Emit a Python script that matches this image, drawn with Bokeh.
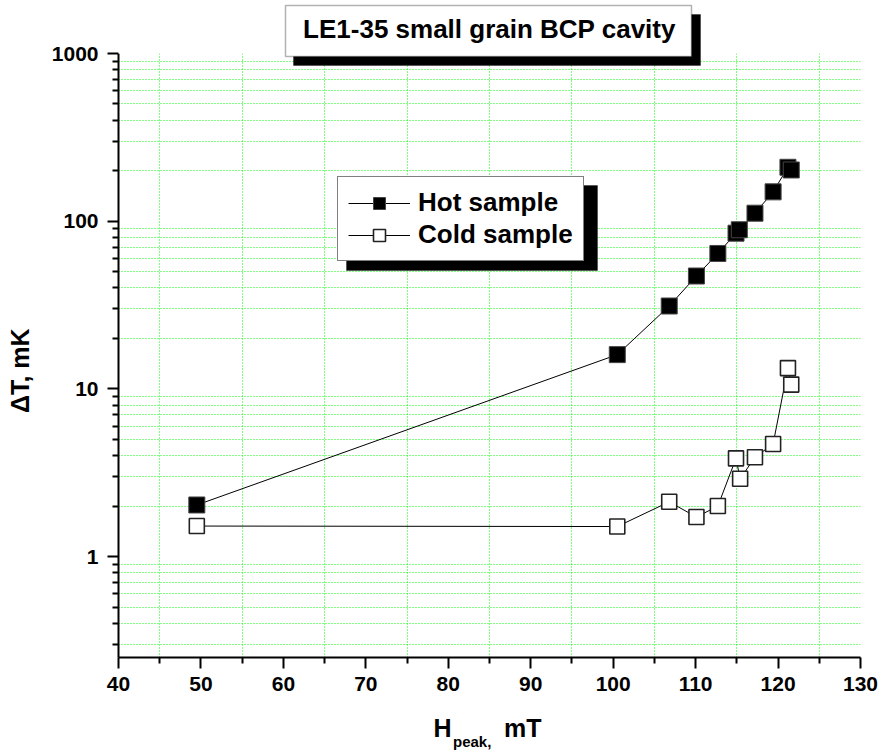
import math
from bokeh.plotting import figure
from bokeh.layouts import column, row
from bokeh.models import (Range1d, FixedTicker, PrintfTickFormatter, Label, BoxAnnotation,
                          Legend, LegendItem)
from bokeh.core.properties import value
from bokeh.embed import file_html
from bokeh.resources import INLINE

# ---------------- data ----------------
hot_x = [49.5, 100.5, 106.8, 110.1, 112.7, 114.9, 115.3, 117.2, 119.4, 121.2, 121.6]
hot_y = [2.03, 16.0, 31.2, 47.1, 64.2, 84.8, 88.9, 111.6, 149.6, 209.6, 202.0]
cold_x = [49.5, 100.5, 106.8, 110.1, 112.7, 114.9, 115.4, 117.2, 119.4, 121.2, 121.6]
cold_y = [1.52, 1.51, 2.12, 1.72, 2.00, 3.85, 2.91, 3.91, 4.69, 13.3, 10.6]

x_major = [40, 50, 60, 70, 80, 90, 100, 110, 120, 130]
x_minor = [45, 55, 65, 75, 85, 95, 105, 115, 125]
y_major = [1, 10, 100, 1000]
y_minor = [0.3, 0.4, 0.5, 0.6, 0.7, 0.8, 0.9,
           2, 3, 4, 5, 6, 7, 8, 9,
           20, 30, 40, 50, 60, 70, 80, 90,
           200, 300, 400, 500, 600, 700, 800, 900]
y_low, y_high = 0.25, 1000

title_text = "LE1-35 small grain BCP cavity"
series_names = ["Hot sample", "Cold sample"]
y_label = "\u0394T, mK"
x_label_main, x_label_sub, x_label_unit = "H", "peak,", "mT"

FONT = "Liberation Sans"
GRID = "#00ff00"

# ---------------- layout (page pixels) ----------------
PAGE_W, PAGE_H = 880, 753
YLAB_W = 45            # strip holding the y-axis title
MAIN_H = 700           # main figure height
XLAB_H = PAGE_H - MAIN_H
FRAME_L, FRAME_R = 118, 860
FRAME_B = 657
Y_TOP_PX = 53          # page y of the 1000 line

px_per_dec = (FRAME_B - Y_TOP_PX) / math.log10(y_high / y_low)
y_range_top = y_high * 10 ** (Y_TOP_PX / px_per_dec)

main_w = PAGE_W - YLAB_W
p = figure(width=main_w, height=MAIN_H, output_backend="svg", toolbar_location=None,
           x_range=Range1d(40, 130), y_range=Range1d(y_low, y_range_top), y_axis_type="log",
           min_border_left=FRAME_L - YLAB_W, min_border_right=PAGE_W - FRAME_R,
           min_border_top=0, min_border_bottom=MAIN_H - FRAME_B)
p.outline_line_color = None
p.background_fill_color = "white"
p.border_fill_color = "white"

for ax in (p.xaxis[0], p.yaxis[0]):
    ax.axis_line_width = 2
    ax.axis_line_color = "black"
    ax.major_tick_line_width = 2
    ax.minor_tick_line_width = 2
    ax.major_tick_in = 0
    ax.major_tick_out = 11
    ax.minor_tick_in = 0
    ax.minor_tick_out = 6
    ax.major_label_text_font = FONT
    ax.major_label_text_font_style = "bold"
    ax.major_label_text_font_size = "21px"
    ax.major_label_text_color = "black"
p.xaxis.ticker = FixedTicker(ticks=x_major, minor_ticks=x_minor)
p.yaxis.ticker = FixedTicker(ticks=y_major, minor_ticks=y_minor)
p.yaxis.formatter = PrintfTickFormatter(format="%d")
p.yaxis.bounds = (y_low, y_high)
p.xaxis.major_label_standoff = 8
p.yaxis.major_label_standoff = 9

p.xgrid.ticker = FixedTicker(ticks=x_minor)
p.ygrid.ticker = FixedTicker(ticks=y_minor)
for g in (p.xgrid[0], p.ygrid[0]):
    g.grid_line_color = GRID
    g.grid_line_width = 1
    g.grid_line_dash = "1 2"

hl = p.line(hot_x, hot_y, line_color="black", line_width=1)
hs = p.scatter(hot_x, hot_y, marker="square", size=16, fill_color="black",
               line_color="#444444", line_width=1)
cl = p.line(cold_x, cold_y, line_color="black", line_width=1)
cs = p.scatter(cold_x, cold_y, marker="square", size=15, fill_color="white",
               line_color="#222222", line_width=1.6)

def sx(px):
    return px - FRAME_L

def sy(py):
    return FRAME_B - py

def screen_box(l, r, t, b, **kw):
    return BoxAnnotation(left=sx(l), right=sx(r), top=sy(t), bottom=sy(b),
                         left_units="screen", right_units="screen",
                         top_units="screen", bottom_units="screen", **kw)

# white mask above the 1000 line (hides grid there)
p.add_layout(BoxAnnotation(bottom=y_high, fill_color="white", fill_alpha=1, line_color=None))

# title box with shadow
p.add_layout(screen_box(293, 700, 14, 65, fill_color="black", fill_alpha=1, line_color="black"))
p.add_layout(screen_box(285, 691, 5, 56, fill_color="white", fill_alpha=1,
                        line_color="black", line_width=1.5))
p.add_layout(Label(x=sx(489), y=sy(28), x_units="screen", y_units="screen",
                   text=title_text, text_align="center", text_baseline="middle",
                   text_font=FONT, text_font_style="bold", text_font_size="26px",
                   text_color="black"))

# legend shadow + legend
p.add_layout(screen_box(346, 597, 185, 270, fill_color="black", fill_alpha=1, line_color="black"))
leg = Legend(items=[LegendItem(label=series_names[0], renderers=[hl, hs]),
                    LegendItem(label=series_names[1], renderers=[cl, cs])],
             location=(sx(337), sy(261)), margin=0, padding=10, spacing=1,
             glyph_width=62, glyph_height=30, label_height=30, label_standoff=8,
             label_text_font=FONT, label_text_font_style="bold",
             label_text_font_size="26px", label_text_color="black",
             background_fill_color="white", background_fill_alpha=1,
             border_line_color="black", border_line_width=1.5)
p.add_layout(leg, "center")

# ---------------- y-axis title strip ----------------
yf = figure(width=YLAB_W, height=MAIN_H, output_backend="svg", toolbar_location=None,
            x_range=Range1d(0, YLAB_W), y_range=Range1d(0, MAIN_H),
            x_axis_location=None, y_axis_location=None,
            min_border_left=0, min_border_right=0, min_border_top=0, min_border_bottom=0)
yf.outline_line_color = None
yf.grid.visible = False
yf.text(x=[19], y=[MAIN_H - 394.5], text=[y_label], angle=math.pi / 2,
        text_align="center", text_baseline="middle",
        text_font=value(FONT), text_font_style="bold", text_font_size="25px",
        text_color="black")

# ---------------- x-axis title strip ----------------
xf = figure(width=PAGE_W, height=XLAB_H, output_backend="svg", toolbar_location=None,
            x_range=Range1d(0, PAGE_W), y_range=Range1d(0, XLAB_H),
            x_axis_location=None, y_axis_location=None,
            min_border_left=0, min_border_right=0, min_border_top=0, min_border_bottom=0)
xf.outline_line_color = None
xf.grid.visible = False

def ypos(page_y):
    return PAGE_H - page_y

xf.text(x=[433], y=[ypos(727.5)], text=[x_label_main], text_align="left",
        text_baseline="middle", text_font=value(FONT), text_font_style="bold",
        text_font_size="25px", text_color="black")
xf.text(x=[452.5], y=[ypos(741)], text=[x_label_sub], text_align="left",
        text_baseline="middle", text_font=value(FONT), text_font_style="bold",
        text_font_size="15px", text_color="black")
xf.text(x=[503.5], y=[ypos(727.5)], text=[x_label_unit], text_align="left",
        text_baseline="middle", text_font=value(FONT), text_font_style="bold",
        text_font_size="25px", text_color="black")

layout = column(row(yf, p, spacing=0), xf, spacing=0)

open("out.html", "w").write(file_html(layout, INLINE))
